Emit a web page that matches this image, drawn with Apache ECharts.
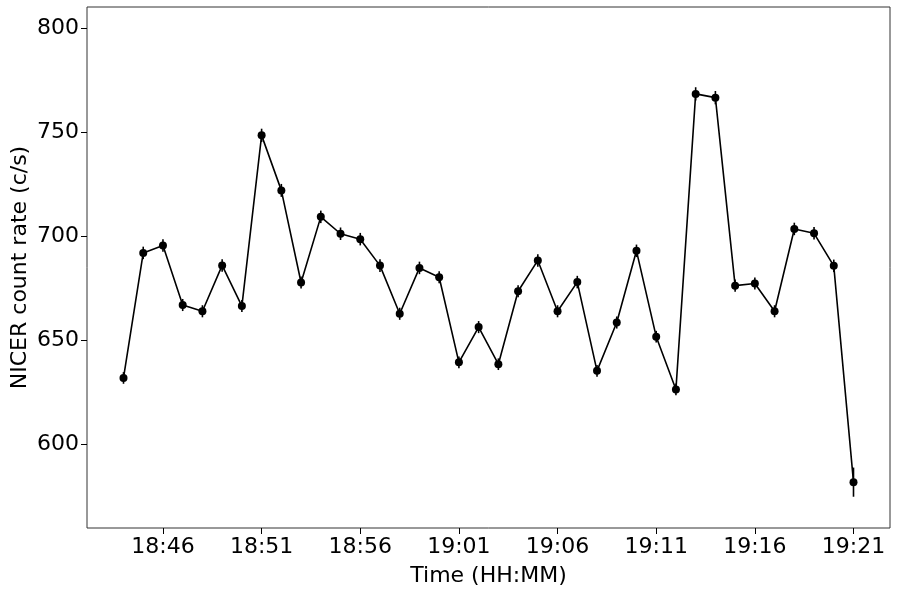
<!DOCTYPE html>
<html>
<head>
<meta charset="utf-8">
<script src="https://cdn.jsdelivr.net/npm/echarts@6/dist/echarts.min.js"></script>
<style>
html,body{margin:0;padding:0;background:#fff;}
#chart{width:897px;height:594px;}
</style>
</head>
<body>
<div id="chart"></div>
<script>
// Time of each bin (HH:MM)
var times = ["18:44","18:45","18:46","18:47","18:48","18:49","18:50","18:51","18:52","18:53",
             "18:54","18:55","18:56","18:57","18:58","18:59","19:00","19:01","19:02","19:03",
             "19:04","19:05","19:06","19:07","19:08","19:09","19:10","19:11","19:12","19:13",
             "19:14","19:15","19:16","19:17","19:18","19:19","19:20","19:21"];
// NICER count rate (c/s)
var rates = [632, 692, 695.5, 667, 664, 686, 666.5, 748.4, 722, 677.8,
             709.3, 701.2, 698.6, 685.9, 662.8, 684.8, 680.3, 639.5, 656.4, 638.6,
             673.6, 688.4, 664, 678, 635.4, 658.6, 693, 651.8, 626.5, 768.3,
             766.5, 676.3, 677.3, 664, 703.5, 701.4, 685.8, 582];
// 1-sigma errors (c/s)
var errs = [2.8, 3.0, 3.0, 2.9, 2.9, 3.0, 2.9, 3.2, 3.1, 2.9,
            3.0, 3.0, 3.0, 3.0, 2.9, 3.0, 2.9, 2.8, 2.9, 2.8,
            2.9, 3.0, 2.9, 3.0, 2.8, 2.9, 3.0, 2.8, 2.8, 3.2,
            3.2, 2.9, 2.9, 2.9, 3.0, 3.0, 3.0, 7.0];
// Tick labels
var xTickLabels = ["18:46","18:51","18:56","19:01","19:06","19:11","19:16","19:21"];
var yTicks = [600, 650, 700, 750, 800];

function toMin(s){ var p = s.split(":"); return (+p[0]-18)*60 + (+p[1]); }
function fmt(m){ var h = 18 + Math.floor(Math.round(m)/60); var mm = Math.round(m)%60; return h + ":" + (mm<10?"0":"") + mm; }

var pts = times.map(function(t,i){ return [toMin(t), rates[i]]; });
var errData = times.map(function(t,i){ return [toMin(t), rates[i]-errs[i], rates[i]+errs[i]]; });
var xTicks = xTickLabels.map(toMin);

var font = "DejaVu Sans";
var fs = 22;
var chart = echarts.init(document.getElementById('chart'), null, {renderer:'canvas'});
chart.setOption({
  animation:false,
  backgroundColor:'#fff',
  grid:{left:87, right:7, top:7, bottom:66, containLabel:false, outerBoundsMode:'none',
        show:true, borderColor:'#333', borderWidth:1, backgroundColor:'transparent'},
  xAxis:{
    type:'value', min:42.15, max:82.85,
    name:'Time (HH:MM)', nameLocation:'middle', nameGap:37, nameMoveOverlap:false,
    nameTextStyle:{fontFamily:font, fontSize:fs, color:'#000'},
    axisLine:{show:false},
    splitLine:{show:false},
    axisTick:{show:true, inside:false, length:6, lineStyle:{color:'#000', width:1}, customValues:xTicks},
    axisLabel:{show:true, margin:8, fontFamily:font, fontSize:fs, color:'#000', customValues:xTicks,
      formatter:function(v){ return fmt(v); }}
  },
  yAxis:{
    type:'value', min:560, max:810,
    name:'NICER count rate (c/s)', nameLocation:'middle', nameGap:56, nameRotate:90, nameMoveOverlap:false,
    nameTextStyle:{fontFamily:font, fontSize:fs, color:'#000'},
    axisLine:{show:false},
    splitLine:{show:false},
    axisTick:{show:true, inside:false, length:6, lineStyle:{color:'#000', width:1}, customValues:yTicks},
    axisLabel:{show:true, margin:8, fontFamily:font, fontSize:fs, color:'#000', customValues:yTicks}
  },
  series:[
    {
      type:'custom',
      data:errData,
      z:3,
      renderItem:function(params, api){
        var x = api.value(0);
        var p1 = api.coord([x, api.value(1)]);
        var p2 = api.coord([x, api.value(2)]);
        return {type:'line', shape:{x1:p1[0], y1:p1[1], x2:p2[0], y2:p2[1]},
                style:{stroke:'#000', lineWidth:1.6}};
      },
      encode:{x:0, y:[1,2]}
    },
    {
      type:'line',
      data:pts,
      z:4,
      symbol:'circle', symbolSize:8,
      itemStyle:{color:'#000'},
      lineStyle:{color:'#000', width:1.6}
    }
  ]
});
</script>
</body>
</html>
